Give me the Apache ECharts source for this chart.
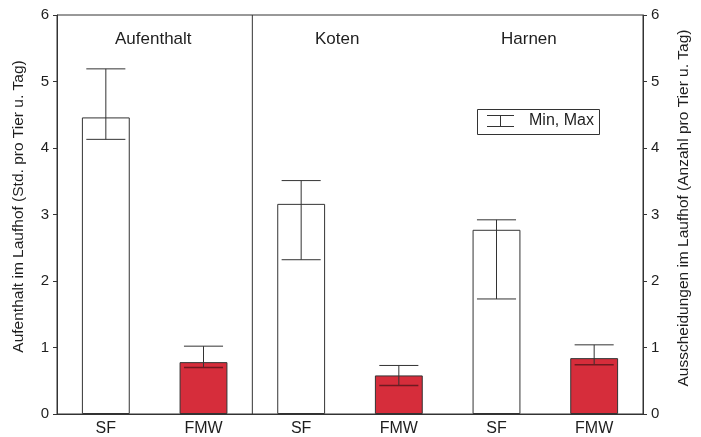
<!DOCTYPE html>
<html>
<head>
<meta charset="utf-8">
<script src="https://cdn.jsdelivr.net/npm/echarts@6/dist/echarts.min.js"></script>
<style>
html,body{margin:0;padding:0;background:#fff;}
#c{width:701px;height:437px;}
</style>
</head>
<body>
<div id="c"></div>
<script>
var categories = ['SF', 'FMW', 'SF', 'FMW', 'SF', 'FMW'];
var values = [4.46, 0.78, 3.16, 0.58, 2.77, 0.84];
var minVals = [4.13, 0.70, 2.32, 0.43, 1.73, 0.74];
var maxVals = [5.19, 1.02, 3.51, 0.73, 2.92, 1.04];
var groupLabels = ['Aufenthalt', 'Koten', 'Harnen'];
var dividerAfter = [1];

var FONT = 'Liberation Sans, Arial, sans-serif';
var TXT = '#1e1e1e';
var LINE = '#333';
var RED = '#d62d3b';

var chart = echarts.init(document.getElementById('c'), null, {renderer: 'canvas'});

var errData = categories.map(function (c, i) { return [i, minVals[i], maxVals[i]]; });

var option = {
  animation: false,
  backgroundColor: '#fff',
  grid: {left: 57, right: 58, top: 15, bottom: 19, show: true, borderColor: LINE, borderWidth: 1, backgroundColor: 'transparent'},
  xAxis: {
    type: 'category',
    data: categories,
    boundaryGap: true,
    axisLine: {lineStyle: {color: LINE, width: 1}},
    axisTick: {show: false},
    axisLabel: {color: TXT, fontSize: 16, fontFamily: FONT, margin: 7}
  },
  yAxis: [{
    type: 'value', min: 0, max: 6, interval: 1, position: 'left',
    name: 'Aufenthalt im Laufhof (Std. pro Tier u. Tag)',
    nameLocation: 'middle', nameGap: 30,
    nameTextStyle: {color: TXT, fontSize: 15.5, fontFamily: FONT, padding: [0, 0, 0, 16]},
    axisLine: {show: true, lineStyle: {color: LINE}},
    axisTick: {show: true, length: 4, lineStyle: {color: LINE}},
    axisLabel: {color: TXT, fontSize: 15, fontFamily: FONT, margin: 8},
    splitLine: {show: false}
  }, {
    type: 'value', min: 0, max: 6, interval: 1, position: 'right',
    name: 'Ausscheidungen im Laufhof (Anzahl pro Tier u. Tag)',
    nameLocation: 'middle', nameGap: 33, nameRotate: 90,
    nameTextStyle: {color: TXT, fontSize: 15.5, fontFamily: FONT, padding: [0, 0, 0, 13]},
    axisLine: {show: true, lineStyle: {color: LINE}},
    axisTick: {show: true, length: 4, lineStyle: {color: LINE}},
    axisLabel: {color: TXT, fontSize: 15, fontFamily: FONT, margin: 8},
    splitLine: {show: false}
  }],
  series: [{
    type: 'bar',
    data: values,
    barWidth: '49%',
    itemStyle: {
      color: function (p) { return p.name === 'FMW' ? RED : '#fff'; },
      borderColor: LINE,
      borderWidth: 1
    },
    z: 2
  }, {
    type: 'custom',
    name: 'Min, Max',
    data: errData,
    z: 5,
    renderItem: function (params, api) {
      var i = api.value(0);
      var lo = api.coord([i, api.value(1)]);
      var hi = api.coord([i, api.value(2)]);
      var half = api.size([1, 0])[0] * 0.2;
      var isRed = categories[i] === 'FMW';
      return {
        type: 'group',
        children: [
          {type: 'line', shape: {x1: hi[0], y1: hi[1], x2: lo[0], y2: lo[1]}, style: {stroke: LINE, lineWidth: 1}},
          {type: 'line', shape: {x1: hi[0] - half, y1: hi[1], x2: hi[0] + half, y2: hi[1]}, style: {stroke: LINE, lineWidth: 1}},
          {type: 'line', shape: {x1: lo[0] - half, y1: lo[1], x2: lo[0] + half, y2: lo[1]}, style: {stroke: isRed ? '#6e1a20' : LINE, lineWidth: isRed ? 1.5 : 1}}
        ]
      };
    }
  }, {
    type: 'custom',
    data: dividerAfter.map(function (d) { return [d]; }),
    z: 6,
    renderItem: function (params, api) {
      var i = api.value(0);
      var p = api.coord([i, 0]);
      var top = api.coord([i, 6]);
      var x = p[0] + api.size([1, 0])[0] / 2;
      return {type: 'line', shape: {x1: x, y1: p[1], x2: x, y2: top[1]}, style: {stroke: LINE, lineWidth: 1}};
    }
  }],
  graphic: [
    {type: 'text', left: 115, top: 31, style: {text: groupLabels[0], fill: TXT, font: '17px ' + FONT}},
    {type: 'text', left: 315, top: 31, style: {text: groupLabels[1], fill: TXT, font: '17px ' + FONT}},
    {type: 'text', left: 501, top: 31, style: {text: groupLabels[2], fill: TXT, font: '17px ' + FONT}},
    {type: 'rect', shape: {x: 477.5, y: 109.5, width: 122, height: 25}, style: {fill: '#fff', stroke: LINE, lineWidth: 1}, z: 10},
    {type: 'line', shape: {x1: 487, y1: 115.5, x2: 514, y2: 115.5}, style: {stroke: LINE, lineWidth: 1}, z: 11},
    {type: 'line', shape: {x1: 500.5, y1: 115.5, x2: 500.5, y2: 126.5}, style: {stroke: LINE, lineWidth: 1}, z: 11},
    {type: 'line', shape: {x1: 487, y1: 126.5, x2: 514, y2: 126.5}, style: {stroke: LINE, lineWidth: 1}, z: 11},
    {type: 'text', left: 529, top: 113, style: {text: 'Min, Max', fill: TXT, font: '16px ' + FONT}, z: 11}
  ]
};
chart.setOption(option);
</script>
</body>
</html>
